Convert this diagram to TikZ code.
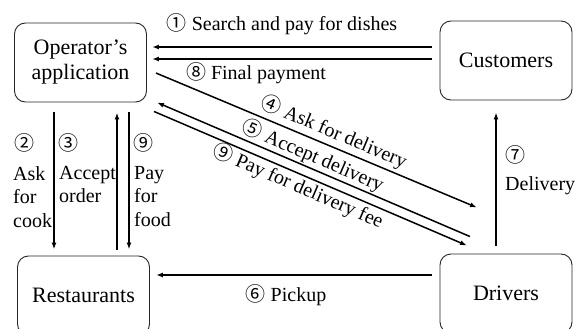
\documentclass[tikz,border=0pt]{standalone}
\usepackage{fontspec}
\setmainfont{Liberation Serif}
\newfontfamily\cf{Noto Sans CJK SC}
\usetikzlibrary{arrows.meta,calc}
\tikzset{
  box/.style={draw=black!85, line width=0.9pt, rounded corners=11pt, minimum width=132pt, minimum height=79pt, align=center, font=\fontsize{22}{25}\selectfont, inner sep=0pt},
  arr/.style={line width=1.5pt, -{Latex[length=7pt,width=5pt]}},
  lbl/.style={font=\fontsize{20}{23.5}\selectfont, inner sep=0pt},
  cnode/.style={font=\cf\fontsize{20}{20}\selectfont, inner sep=0pt},
}
\newcommand\cn[1]{{\cf\fontsize{20}{20}\selectfont #1}}
\begin{document}
\begin{tikzpicture}[x=1pt,y=-1pt]
\useasboundingbox (0,0) rectangle (581,329);
\node[box] (op) at (80.5,62.5) {Operator’s\\application};
\node[box] (cu) at (506,60.5) {Customers};
\node[box] (re) at (83.5,295.5) {Restaurants};
\node[box] (dr) at (506,293.5) {Drivers};
% 1 and 8
\draw[arr] ([xshift=-8pt,yshift=13.5pt]cu.west) -- ([xshift=5pt,yshift=15.5pt]op.east);
\draw[arr] ([xshift=-8pt,yshift=1.5pt]cu.west) -- ([xshift=5pt,yshift=3.5pt]op.east);
\node[lbl] (l1) at (282,24) {\cn{①} Search and pay for dishes};
\node[lbl] (l8) at (256,73) {\cn{⑧} Final payment};
% verticals
\draw[arr] ([xshift=-26.5pt,yshift=-10pt]op.south) -- ([xshift=-29.5pt,yshift=6pt]re.north);
\draw[arr] ([xshift=33.5pt,yshift=6pt]re.north) -- ([xshift=36.5pt,yshift=-10pt]op.south);
\draw[arr] ([xshift=48.5pt,yshift=-10pt]op.south) -- ([xshift=45.5pt,yshift=6pt]re.north);
\node[cnode] (c2) at (24,143) {②};
\node[cnode] (c3) at (68,143) {③};
\node[cnode] (c9) at (143,143) {⑨};
\node[lbl, align=left, anchor=north west] (l2) at (13,166) {Ask\\for\\cook};
\node[lbl, align=left, anchor=north west] (l3) at (59,166) {Accept\\order};
\node[lbl, align=left, anchor=north west] (l9) at (134,166) {Pay\\for\\food};
% pickup
\draw[arr] ([xshift=-8pt,yshift=18.5pt]dr.west) -- ([xshift=6pt,yshift=20.5pt]re.east);
\node[lbl] (l6) at (286,295) {\cn{⑥} Pickup};
% delivery 7
\draw[arr] ([xshift=-10pt,yshift=8pt]dr.north) -- ([xshift=-10pt,yshift=-12pt]cu.south);
\node[cnode] (c7) at (515,155) {⑦};
\node[lbl, align=left, anchor=north west] (l7) at (505,176) {Delivery};
% diagonals
\draw[arr] ([xshift=9pt,yshift=-10.5pt]op.east) -- ([xshift=-29pt,yshift=46pt]dr.north);
\draw[arr] ([xshift=-36pt,yshift=17pt]dr.north) -- ([xshift=10pt]op.south east);
\draw[arr] ([xshift=7pt,yshift=-9pt]op.south east) -- ([xshift=-39pt,yshift=8pt]dr.north);
\node[lbl, rotate=-22.75] (l4) at (334,132) {\cn{④} Ask for delivery};
\node[lbl, rotate=-23.3] (l5) at (313,156) {\cn{⑤} Accept delivery};
\node[lbl, rotate=-23.3] (l9b) at (298,186) {\cn{⑨} Pay for delivery fee};
\end{tikzpicture}
\end{document}
